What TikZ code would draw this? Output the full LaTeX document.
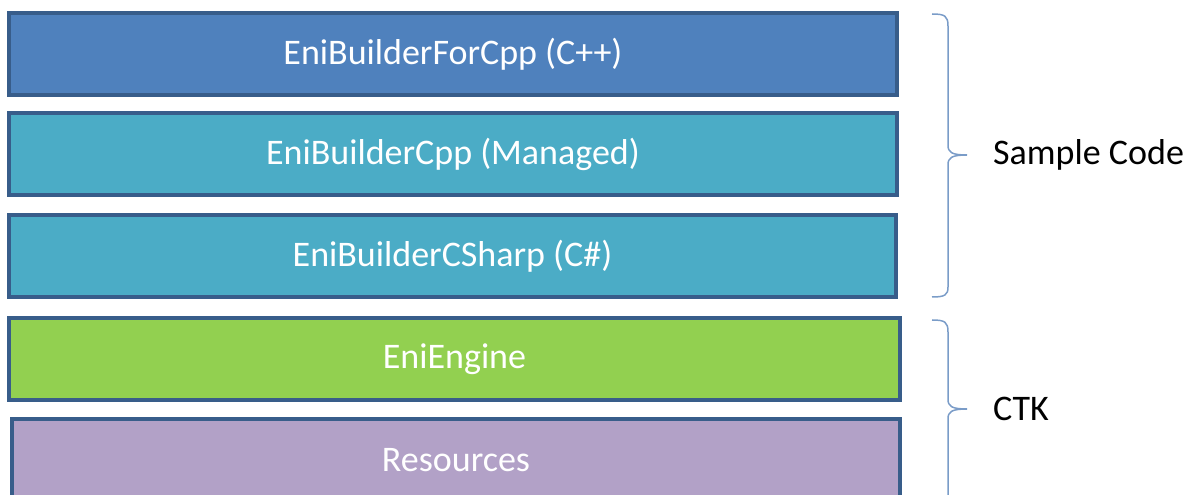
\documentclass[tikz,border=0pt]{standalone}
\usepackage{fontspec}
\setmainfont{Carlito}
\definecolor{bluefill}{HTML}{4F81BD}
\definecolor{aquafill}{HTML}{4BACC6}
\definecolor{greenfill}{HTML}{92D050}
\definecolor{purplefill}{HTML}{B2A1C7}
\definecolor{edgeblue}{HTML}{385D8A}
\definecolor{bracecol}{HTML}{7A9CC8}
\begin{document}
\begin{tikzpicture}[x=1bp,y=-1bp,
  layer/.style={draw=edgeblue, line width=4bp, minimum width=887bp, minimum height=82bp,
    inner sep=0pt, text=white, font=\fontsize{36bp}{43bp}\selectfont},
  lbl/.style={anchor=west, inner sep=0pt, text=black, font=\fontsize{36bp}{43bp}\selectfont},
  bracestyle/.style={draw=bracecol, line width=1.5bp}]
\useasboundingbox (0,0) rectangle (1192,495);
\begin{scope}
\clip (0,0) rectangle (1192,495);
\node[layer, fill=bluefill] (b1) at (453,54.5) {EniBuilderForCpp (C++)};
\node[layer, fill=aquafill] (b2) at (453,154.5) {EniBuilderCpp (Managed)};
\node[layer, fill=aquafill] (b3) at (452.5,256) {EniBuilderCSharp (C\#)};
\node[layer, fill=greenfill, minimum width=890bp] (b4) at (454.5,359) {EniEngine};
\node[layer, fill=purplefill, minimum width=888bp] (b5) at (456,460) {Resources};
\draw[bracestyle] (932,14) .. controls (945,14) and (948,16) .. (948,26) -- (948,145)
  .. controls (948,152) and (951,155) .. (967,155)
  .. controls (951,155) and (948,158) .. (948,165) -- (948,287)
  .. controls (948,295) and (945,297) .. (932,297);
\draw[bracestyle] (932,320) .. controls (945,320) and (948,322) .. (948,332) -- (948,399)
  .. controls (948,406) and (951,409) .. (967,409)
  .. controls (951,409) and (948,412) .. (948,419) -- (948,500);
\end{scope}
\node[lbl] (sc) at (993,155) {Sample Code};
\node[lbl] (ctk) at (993,409) {CTK};
\end{tikzpicture}
\end{document}
